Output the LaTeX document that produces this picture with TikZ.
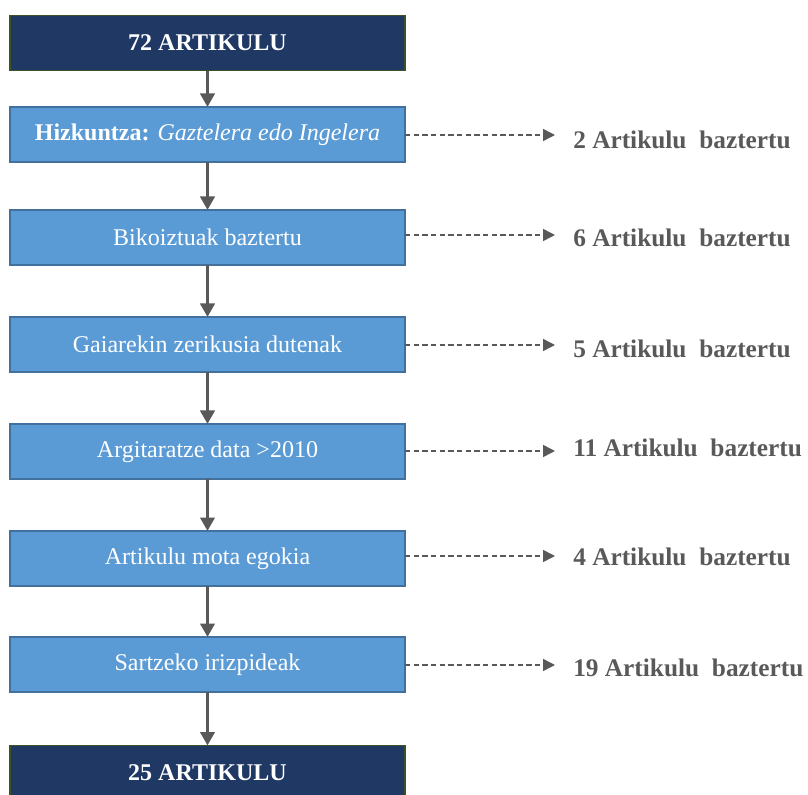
\documentclass[tikz,border=0pt]{standalone}
\usepackage{fontspec}
\setmainfont{Liberation Serif}
\usetikzlibrary{arrows.meta}
\definecolor{navy}{HTML}{203864}
\definecolor{navyedge}{HTML}{3B5323}
\definecolor{boxblue}{HTML}{5B9BD5}
\definecolor{boxedge}{HTML}{41719C}
\definecolor{arrowgray}{HTML}{595959}
\begin{document}
\begin{tikzpicture}[x=0.75pt,y=-0.75pt,
  endbox/.style={draw=navyedge,fill=navy,line width=1.1pt,minimum width=296.25pt,minimum height=41.5pt,inner sep=0pt,outer sep=0pt,text=white,font=\fontsize{18}{20}\selectfont\bfseries},
  stepbox/.style={draw=boxedge,fill=boxblue,line width=1.1pt,minimum width=296.25pt,minimum height=41.5pt,inner sep=0pt,outer sep=0pt,text=white,font=\fontsize{18}{20}\selectfont},
  outlabel/.style={anchor=west,inner sep=0pt,text=arrowgray,font=\fontsize{19}{21}\selectfont\bfseries},
  flow/.style={draw=arrowgray,line width=1.6pt,-{Triangle[length=10pt,width=11pt]}},
  side/.style={draw=arrowgray,line width=1.2pt,dash pattern=on 4pt off 2.5pt,-{Triangle[length=9pt,width=9pt]}}
]
\useasboundingbox (0,0) rectangle (808,795);
\clip (0,0) rectangle (808,795);
\node[endbox] (top) at (207.5,43) {72 ARTIKULU};
\node[stepbox] (b1) at (207.5,134.5) {\textbf{Hizkuntza:} \textit{Gaztelera edo Ingelera}};
\node[stepbox] (b2) at (207.5,237.5) {Bikoiztuak baztertu};
\node[stepbox] (b3) at (207.5,344.5) {Gaiarekin zerikusia dutenak};
\node[stepbox] (b4) at (207.5,451.5) {Argitaratze data >2010};
\node[stepbox] (b5) at (207.5,558.5) {Artikulu mota egokia};
\node[stepbox] (b6) at (207.5,664.5) {Sartzeko irizpideak};
\node[endbox] (bot) at (207.5,773) {25 ARTIKULU};

\draw[flow] (top) -- (b1);
\draw[flow] (b1) -- (b2);
\draw[flow] (b2) -- (b3);
\draw[flow] (b3) -- (b4);
\draw[flow] (b4) -- (b5);
\draw[flow] (b5) -- (b6);
\draw[flow] (b6) -- (bot);

\node[outlabel] (r1) at (573,140) {2 Artikulu\ \ baztertu};
\node[outlabel] (r2) at (573,237.5) {6 Artikulu\ \ baztertu};
\node[outlabel] (r3) at (573,349) {5 Artikulu\ \ baztertu};
\node[outlabel] (r4) at (573,448) {11 Artikulu\ \ baztertu};
\node[outlabel] (r5) at (573,557) {4 Artikulu\ \ baztertu};
\node[outlabel] (r6) at (573,668) {19 Artikulu\ \ baztertu};

\coordinate (t1) at (555,135);
\coordinate (t2) at (555,235);
\coordinate (t3) at (555,345);
\coordinate (t4) at (555,451);
\coordinate (t5) at (555,556);
\coordinate (t6) at (555,665);
\draw[side] (b1.east |- t1) -- (t1);
\draw[side] (b2.east |- t2) -- (t2);
\draw[side] (b3.east |- t3) -- (t3);
\draw[side] (b4.east |- t4) -- (t4);
\draw[side] (b5.east |- t5) -- (t5);
\draw[side] (b6.east |- t6) -- (t6);
\end{tikzpicture}
\end{document}
